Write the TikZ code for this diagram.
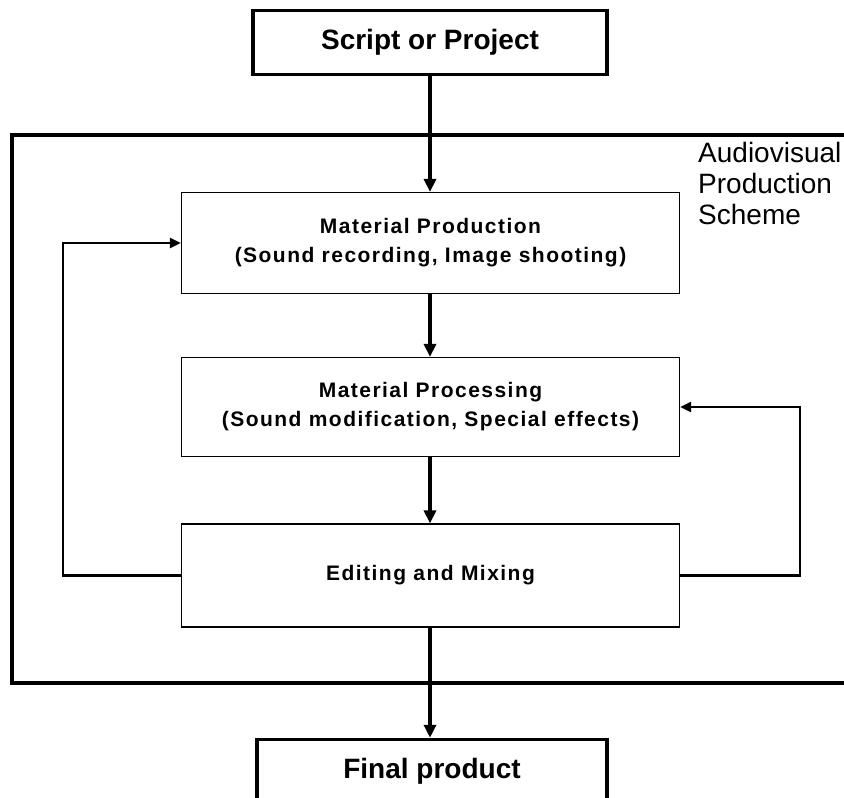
\documentclass[tikz,border=0pt]{standalone}
\usepackage{fontspec}
\setmainfont{Liberation Sans}
\newfontfamily\spacedfont[LetterSpace=7]{Liberation Sans}
\usetikzlibrary{arrows.meta}
\tikzset{
  endbox/.style={draw, line width=3.5pt, minimum width=350pt, minimum height=64pt,
    font=\fontsize{28}{32}\selectfont\bfseries},
  stagebox/.style={draw, line width=1.2pt, fill=white, minimum width=498pt, minimum height=101pt,
    align=center, font=\spacedfont\fontsize{21}{29}\selectfont\bfseries},
  flow/.style={line width=3.5pt, -{Triangle[length=13pt,width=12pt]}},
  loopback/.style={line width=2.6pt, -{Triangle[length=11pt,width=10pt]}}
}
\begin{document}
\begin{tikzpicture}[x=1pt, y=-1pt]
\useasboundingbox (0,0) rectangle (844,798);
\clip (0,0) rectangle (844,798);
% frame of the scheme
\draw[line width=4pt] (880,135) -- (12,135) -- (12,683) -- (880,683);
\node[anchor=north west, inner sep=0, align=left, font=\fontsize{28}{31}\selectfont] (schemelabel) at (698,142) {Audiovisual\\Production\\Scheme};
% boxes
\node[endbox, minimum width=354pt] (script) at (430,42.5) {Script or Project};
\node[stagebox] (matprod) at (430.5,243) {Material Production\\(Sound recording, Image shooting)};
\node[stagebox, minimum height=99pt] (matproc) at (430.5,407) {Material Processing\\(Sound modification, Special effects)};
\node[stagebox, minimum height=103pt] (editing) at (430.5,575.5) {Editing and Mixing};
\node[endbox] (final) at (432,771.5) {Final product};
% main flow
\draw[flow] (script.south -| 430,0) -- (matprod.north -| 430,0);
\draw[flow] (matprod.south -| 430,0) -- (matproc.north -| 430,0);
\draw[flow] (matproc.south -| 430,0) -- (editing.north -| 430,0);
\draw[flow] (editing.south -| 430,0) -- (final.north -| 430,0);
% feedback loops
\draw[loopback] (editing.west) -- (63,575.5) |- (matprod.west);
\draw[loopback] (editing.east) -- (800,575.5) |- (matproc.east);
\end{tikzpicture}
\end{document}
